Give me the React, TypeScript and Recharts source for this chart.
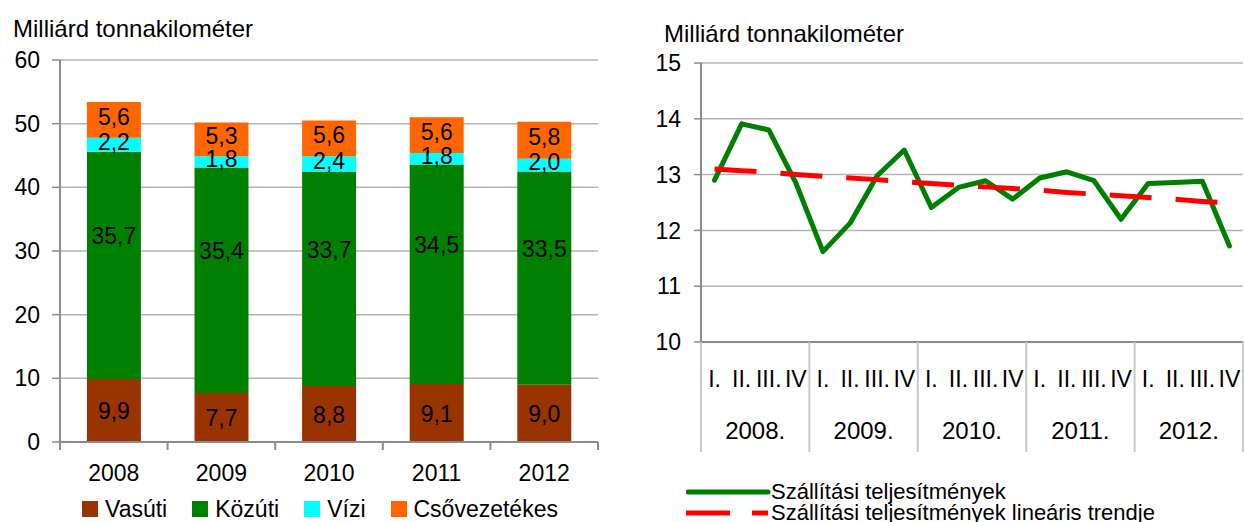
import React from 'react';
import {
  Bar, BarChart, CartesianGrid, LabelList, Line, LineChart, XAxis, YAxis,
} from 'recharts';

const FONT = '"Liberation Sans", Arial, Helvetica, sans-serif';

// Left chart: yearly performance by mode (billion tkm)
const years = ['2008', '2009', '2010', '2011', '2012'];
const vasuti = [9.9, 7.7, 8.8, 9.1, 9.0];
const kozuti = [35.7, 35.4, 33.7, 34.5, 33.5];
const vizi = [2.2, 1.8, 2.4, 1.8, 2.0];
const csovezetekes = [5.6, 5.3, 5.6, 5.6, 5.8];
const barTicks = [0, 10, 20, 30, 40, 50, 60];

// Right chart: quarterly totals and linear trend
const quarterLabels = ['I.', 'II.', 'III.', 'IV'];
const yearLabels = ['2008.', '2009.', '2010.', '2011.', '2012.'];
const quarterly = [
  12.9, 13.91, 13.8, 12.85,
  11.62, 12.13, 12.98, 13.44,
  12.41, 12.77, 12.89, 12.56,
  12.94, 13.05, 12.89, 12.2,
  12.84, 12.86, 12.88, 11.72,
];
const trend = [
  13.1, 13.07, 13.04, 13.0,
  12.97, 12.94, 12.91, 12.87,
  12.84, 12.81, 12.78, 12.75,
  12.72, 12.68, 12.65, 12.62,
  12.59, 12.56, 12.52, 12.49,
];
const lineTicks = [10, 11, 12, 13, 14, 15];

const barRows = years.map((y, i) => ({
  year: y, vasuti: vasuti[i], kozuti: kozuti[i], vizi: vizi[i], cso: csovezetekes[i],
}));

const lineRows = quarterly.map((v, i) => ({
  q: `${i}`,
  label: quarterLabels[i % 4],
  year: yearLabels[Math.floor(i / 4)],
  value: v,
  trend: trend[i],
}));

const BAR_PLOT_W = 538;
const LINE_PLOT_W = 542;
const AXIS = '#8c8c8c';
const GRID = '#b4b4b4';
const DIVIDER = '#c8c8c8';

const comma = (v: any) => Number(v).toFixed(1).replace('.', ',');

// segment label, optionally nudged vertically like the source chart
const segLabel = (dy: number) => (p: any) => {
  const { x, y, width, height, value } = p;
  return (
    <text x={Number(x) + Number(width) / 2} y={Number(y) + Number(height) / 2 + dy}
      textAnchor="middle" dominantBaseline="central" fontSize={23} fill="#000" fontFamily={FONT}>
      {comma(value)}
    </text>
  );
};

function YearTick(props: any) {
  const { x, y, payload, index } = props;
  const half = BAR_PLOT_W / years.length / 2;
  return (
    <g>
      <line x1={x - half} x2={x - half} y1={y} y2={y + 8} stroke={AXIS} strokeWidth={2} />
      {index === years.length - 1 && (
        <line x1={x + half} x2={x + half} y1={y} y2={y + 8} stroke={AXIS} strokeWidth={2} />
      )}
      <text x={x} y={y + 31} textAnchor="middle" dominantBaseline="central"
        fontSize={23} fill="#000" fontFamily={FONT}>{payload.value}</text>
    </g>
  );
}

function QuarterTick(props: any) {
  const { x, y, index } = props;
  const row = lineRows[index];
  if (!row) return null;
  const band = LINE_PLOT_W / lineRows.length;
  const first = index % 4 === 0;
  const groupCenter = x - band / 2 + band * 2;
  return (
    <g>
      {first && (
        <line x1={x - band / 2} x2={x - band / 2} y1={y} y2={y + 110} stroke={DIVIDER} strokeWidth={2} />
      )}
      {index === lineRows.length - 1 && (
        <line x1={x + band / 2} x2={x + band / 2} y1={y} y2={y + 110} stroke={DIVIDER} strokeWidth={2} />
      )}
      <text x={x} y={y + 37} textAnchor="middle" dominantBaseline="central"
        fontSize={23} fill="#000" fontFamily={FONT}>{row.label}</text>
      {first && (
        <text x={groupCenter} y={y + 88} textAnchor="middle" dominantBaseline="central"
          fontSize={24} fill="#000" fontFamily={FONT}>{row.year}</text>
      )}
    </g>
  );
}

const legendItems = [
  { name: 'Vasúti', color: '#993300' },
  { name: 'Közúti', color: '#008000' },
  { name: 'Vízi', color: '#00ffff' },
  { name: 'Csővezetékes', color: '#ff6600' },
];

const titleStyle: React.CSSProperties = {
  position: 'absolute', fontSize: 24, lineHeight: '24px', fontFamily: FONT, color: '#000', whiteSpace: 'nowrap',
};

export default function App() {
  const tick = { fontSize: 23, fill: '#000', fontFamily: FONT };
  return (
    <div style={{ position: 'absolute', left: 0, top: 0, width: 1244, height: 522, background: '#fff', fontFamily: FONT }}>
      <div style={{ ...titleStyle, left: 13, top: 17 }}>Milliárd tonnakilométer</div>
      <div style={{ ...titleStyle, left: 664, top: 22 }}>Milliárd tonnakilométer</div>

      <div style={{ position: 'absolute', left: 0, top: 0 }}>
        <BarChart width={620} height={522} data={barRows}
          margin={{ top: 60, right: 22, left: 0, bottom: 40 }} barCategoryGap="25%">
          <CartesianGrid vertical={false} stroke={GRID} strokeWidth={1.5} />
          <XAxis dataKey="year" height={40} axisLine={{ stroke: AXIS, strokeWidth: 2 }}
            tickLine={false} tickSize={0} tickMargin={0} tick={<YearTick />} interval={0} />
          <YAxis domain={[0, 60]} ticks={barTicks} width={60} tick={tick}
            axisLine={{ stroke: AXIS, strokeWidth: 2 }} tickLine={{ stroke: AXIS, strokeWidth: 1.5 }}
            tickSize={8} tickMargin={12} />
          <YAxis yAxisId="r" orientation="right" domain={[0, 60]} width={0} tick={false}
            tickLine={false} axisLine={{ stroke: AXIS, strokeWidth: 2 }} />
          <Bar dataKey="vasuti" stackId="a" fill="#993300" isAnimationActive={false}>
            <LabelList dataKey="vasuti" content={segLabel(1)} />
          </Bar>
          <Bar dataKey="kozuti" stackId="a" fill="#008000" isAnimationActive={false}>
            <LabelList dataKey="kozuti" content={segLabel(-29)} />
          </Bar>
          <Bar dataKey="vizi" stackId="a" fill="#00ffff" isAnimationActive={false}>
            <LabelList dataKey="vizi" content={segLabel(-3)} />
          </Bar>
          <Bar dataKey="cso" stackId="a" fill="#ff6600" isAnimationActive={false}>
            <LabelList dataKey="cso" content={segLabel(-3)} />
          </Bar>
        </BarChart>
      </div>

      <div style={{ position: 'absolute', left: 82, top: 497, display: 'flex', alignItems: 'center', gap: 25, fontSize: 23, lineHeight: '24px' }}>
        {legendItems.map((it) => (
          <div key={it.name} style={{ display: 'flex', alignItems: 'center', gap: 7 }}>
            <span style={{ display: 'inline-block', width: 16, height: 16, background: it.color }} />
            <span>{it.name}</span>
          </div>
        ))}
      </div>

      <div style={{ position: 'absolute', left: 686, top: 481, fontSize: 22, lineHeight: '21px' }}>
        <div style={{ display: 'flex', alignItems: 'center' }}>
          <svg width={85} height={10}><line x1={2} x2={82} y1={5} y2={5} stroke="#008000" strokeWidth={5} strokeLinecap="round" /></svg>
          <span>Szállítási teljesítmények</span>
        </div>
        <div style={{ display: 'flex', alignItems: 'center' }}>
          <svg width={85} height={10}><line x1={0} x2={82} y1={5} y2={5} stroke="#ff0000" strokeWidth={5} strokeDasharray="44 22" /></svg>
          <span>Szállítási teljesítmények lineáris trendje</span>
        </div>
      </div>

      <div style={{ position: 'absolute', left: 620, top: 0 }}>
        <LineChart width={624} height={522} data={lineRows}
          margin={{ top: 63, right: 1, left: 0, bottom: 60 }}>
          <CartesianGrid vertical={false} stroke={GRID} strokeWidth={1.5} />
          <XAxis dataKey="q" scale="band" height={120} interval={0}
            axisLine={{ stroke: AXIS, strokeWidth: 2 }} tickLine={false} tickSize={0} tickMargin={0}
            tick={<QuarterTick />} />
          <YAxis domain={[10, 15]} ticks={lineTicks} width={81} tick={tick}
            axisLine={{ stroke: AXIS, strokeWidth: 2 }} tickLine={{ stroke: AXIS, strokeWidth: 1.5 }}
            tickSize={7} tickMargin={13} />
          <Line dataKey="value" type="linear" stroke="#008000" strokeWidth={5} dot={false}
            strokeLinecap="round" strokeLinejoin="round" isAnimationActive={false} />
          <Line dataKey="trend" type="linear" stroke="#ff0000" strokeWidth={5} dot={false}
            strokeDasharray="42 24" isAnimationActive={false} />
        </LineChart>
      </div>
    </div>
  );
}
